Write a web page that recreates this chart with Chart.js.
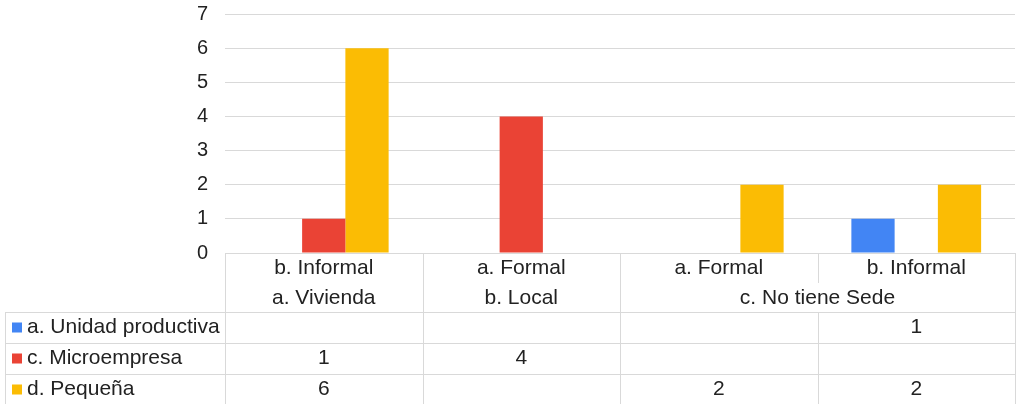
<!DOCTYPE html>
<html>
<head>
<meta charset="utf-8">
<script src="https://cdn.jsdelivr.net/npm/chart.js@4.4.1/dist/chart.umd.min.js"></script>
<style>
  body { margin: 0; background: #fff; }
  #wrap { width: 1017px; height: 404px; }
</style>
</head>
<body>
<div id="wrap"><canvas id="chart" width="1017" height="404"></canvas></div>
<script>
    // --- Data ---
    const subLabels = ["b. Informal", "a. Formal", "a. Formal", "b. Informal"];
    const groupLabels = [
        { text: "a. Vivienda", from: 0, to: 0 },
        { text: "b. Local", from: 1, to: 1 },
        { text: "c. No tiene Sede", from: 2, to: 3 }
    ];
    const seriesNames = ["a. Unidad productiva", "c. Microempresa", "d. Pequeña"];
    const unidadProductiva = [null, null, null, 1];
    const microempresa = [1, 4, null, null];
    const pequena = [6, null, 2, 2];
    const seriesColors = ["#4285F4", "#EA4335", "#FBBC04"];
    const yTicks = [0, 1, 2, 3, 4, 5, 6, 7];

    const FONT = "'Liberation Sans', Arial, sans-serif";
    const TEXT = "#222";
    const LINE = "#d9d9d9";

    // draws the data table under the bars, lined up with the x scale
    const tablePlugin = {
        id: "dataTable",
        afterDraw(chart) {
            const ctx = chart.ctx;
            const area = chart.chartArea;
            const n = subLabels.length;
            const colW = (area.right - area.left) / n;
            const edges = [];
            for (let i = 0; i <= n; i++) edges.push(area.left + i * colW);

            const top = area.bottom;
            const headMid = top + 30;
            const bodyTop = top + 59;
            const rowH = 31;
            const bottom = chart.height;
            const leftX = 5;

            ctx.save();
            ctx.strokeStyle = LINE;
            ctx.lineWidth = 1;

            function hline(x1, x2, y) {
                ctx.beginPath();
                ctx.moveTo(x1, Math.round(y) + 0.5);
                ctx.lineTo(x2, Math.round(y) + 0.5);
                ctx.stroke();
            }
            function vline(x, y1, y2) {
                ctx.beginPath();
                ctx.moveTo(Math.round(x) + 0.5, y1);
                ctx.lineTo(Math.round(x) + 0.5, y2);
                ctx.stroke();
            }

            hline(area.left, area.right, top);
            for (let r = 0; r < seriesNames.length; r++) {
                hline(leftX, area.right, bodyTop + r * rowH);
            }
            vline(leftX, bodyTop, bottom);

            edges.forEach((x, i) => {
                const inner = groupLabels.some(g => i > g.from && i <= g.to);
                if (inner) {
                    vline(x, top, headMid);
                    vline(x, bodyTop, bottom);
                } else {
                    vline(x, top, bottom);
                }
            });

            ctx.fillStyle = TEXT;
            ctx.font = "21px " + FONT;
            ctx.textAlign = "center";
            ctx.textBaseline = "middle";

            subLabels.forEach((label, i) => {
                ctx.fillText(label, edges[i] + colW / 2, top + 15);
            });
            groupLabels.forEach(g => {
                const cx = (edges[g.from] + edges[g.to + 1]) / 2;
                ctx.fillText(g.text, cx, top + 45);
            });

            const allSeries = [unidadProductiva, microempresa, pequena];
            allSeries.forEach((values, r) => {
                const cy = bodyTop + r * rowH + rowH / 2;
                values.forEach((v, i) => {
                    if (v !== null) {
                        ctx.fillStyle = TEXT;
                        ctx.textAlign = "center";
                        ctx.fillText(String(v), edges[i] + colW / 2, cy);
                    }
                });
                ctx.fillStyle = seriesColors[r];
                ctx.fillRect(12, cy - 5, 10, 10);
                ctx.fillStyle = TEXT;
                ctx.textAlign = "left";
                ctx.fillText(seriesNames[r], 27, cy);
            });

            ctx.restore();
        }
    };

    new Chart(document.getElementById("chart").getContext("2d"), {
        type: "bar",
        data: {
            labels: subLabels,
            datasets: [
                { label: seriesNames[0], data: unidadProductiva, backgroundColor: seriesColors[0] },
                { label: seriesNames[1], data: microempresa, backgroundColor: seriesColors[1] },
                { label: seriesNames[2], data: pequena, backgroundColor: seriesColors[2] }
            ]
        },
        options: {
            responsive: false,
            animation: false,
            categoryPercentage: 0.657,
            barPercentage: 1.0,
            layout: { padding: { top: 14, right: 2, bottom: 151, left: 0 } },
            scales: {
                x: { display: false },
                y: {
                    min: 0,
                    max: 7,
                    afterFit: scale => { scale.width = 225; },
                    afterBuildTicks: scale => { scale.ticks = yTicks.map(v => ({ value: v })); },
                    ticks: {
                        color: TEXT,
                        padding: 0,
                        font: { family: FONT, size: 20 }
                    },
                    grid: { color: LINE, drawTicks: true, tickLength: 17, tickColor: "rgba(0,0,0,0)" },
                    border: { display: false }
                }
            },
            plugins: {
                legend: { display: false },
                tooltip: { enabled: false }
            }
        },
        plugins: [tablePlugin]
    });
</script>
</body>
</html>
